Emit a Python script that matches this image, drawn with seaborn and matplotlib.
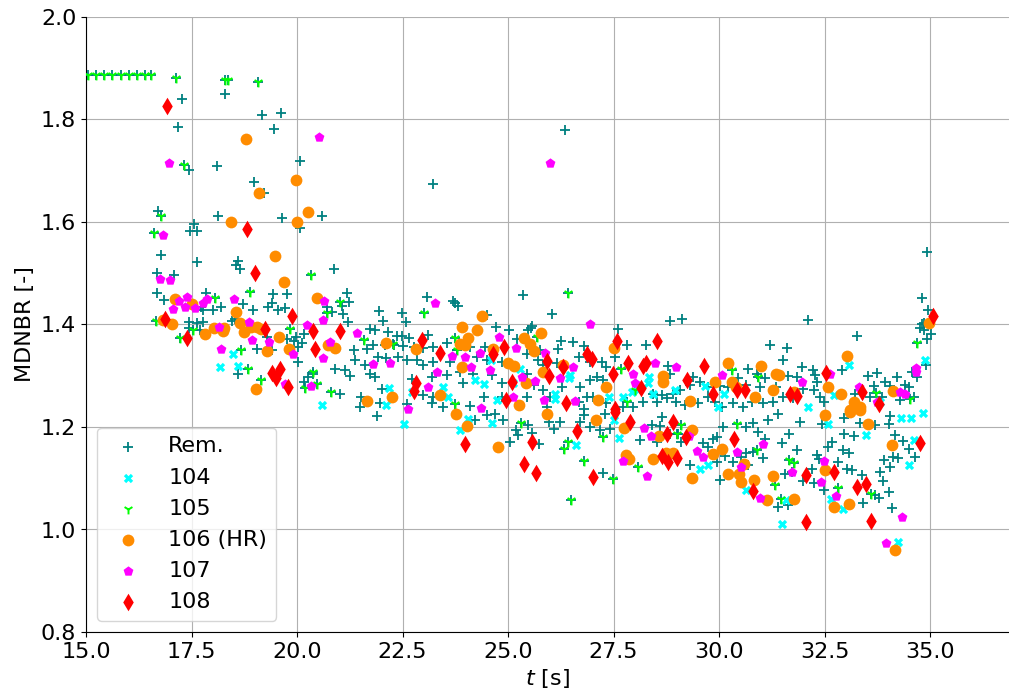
import matplotlib
matplotlib.use("Agg")
import matplotlib.pyplot as plt
import seaborn as sns
import pandas as pd

# ---------------- data (t [s], MDNBR [-]) ----------------
rem_pts = [
    (17.27,1.84),(17.18,1.785),(18.29,1.85),(19.17,1.809),(19.62,1.813),(19.46,1.781),(20.07,1.719),
    (17.44,1.701),(18.1,1.709),(18.98,1.678),(19.22,1.657),(20.59,1.612),(16.71,1.621),(18.13,1.612),
    (19.64,1.608),(20.07,1.588),(17.56,1.596),(17.46,1.582),(17.62,1.582),(23.22,1.674),(26.35,1.779),
    (16.77,1.535),(17.64,1.521),(18.56,1.516),(18.64,1.509),(18.61,1.524),(16.69,1.501),(17.09,1.496),
    (20.88,1.508),(16.69,1.462),(16.85,1.447),(17.85,1.462),(18.19,1.434),(18.02,1.429),(17.72,1.434),
    (17.78,1.428),(18.72,1.44),(18.95,1.429),(18.53,1.41),(18.46,1.407),(19.44,1.459),(19.77,1.459),
    (19.4,1.441),(19.55,1.429),(19.71,1.433),(19.32,1.434),(21.18,1.462),(21.24,1.443),(21.06,1.436),
    (20.71,1.434),(20.82,1.425),(21.08,1.421),(21.2,1.405),(17.45,1.405),(17.63,1.403),(17.77,1.404),
    (17.43,1.394),(17.7,1.389),(19.28,1.375),(19.06,1.353),(19.4,1.35),(18.59,1.303),(19.76,1.371),
    (19.93,1.368),(19.98,1.375),(20.03,1.356),(20.11,1.363),(20.03,1.327),(20.17,1.382),(20.17,1.288),
    (20.25,1.297),(20.39,1.304),(20.9,1.314),(21.14,1.311),(21.26,1.299),(21.02,1.265),(21.51,1.259),
    (21.5,1.239),(21.34,1.35),(21.38,1.33),(21.61,1.321),(21.65,1.353),
    (21.95,1.426),(22.48,1.423),(22.03,1.406),(22.58,1.405),(21.73,1.392),(21.85,1.389),(22.16,1.386),
    (22.36,1.377),(22.48,1.377),(22.66,1.373),(23.11,1.379),(21.81,1.36),(22.09,1.36),(22.3,1.36),
    (22.52,1.358),(22.76,1.356),(22.98,1.354),(23.23,1.356),(23.55,1.363),(23.78,1.351),(24.1,1.356),
    (24.46,1.356),(24.72,1.395),(25.03,1.389),(25.21,1.371),(25.55,1.394),(25.76,1.35),(26.19,1.353),
    (26.25,1.368),(26.55,1.366),(26.79,1.358),(26.69,1.337),(26.94,1.327),(21.93,1.337),(22.12,1.334),
    (22.4,1.336),(22.6,1.33),(22.84,1.33),(22.99,1.321),(23.23,1.327),(23.63,1.327),(24.26,1.337),
    (24.49,1.33),(24.85,1.327),(25.44,1.343),(25.72,1.33),(25.84,1.321),(26.15,1.324),(21.73,1.304),
    (21.85,1.298),(22.72,1.293),(23.19,1.298),(23.55,1.301),(23.86,1.308),(24.18,1.304),(24.61,1.301),
    (24.85,1.285),(25.44,1.304),(25.62,1.282),(25.84,1.272),(26.27,1.278),(26.71,1.278),(26.86,1.259),
    (22.01,1.275),(23.23,1.259),(22.99,1.262),(23.94,1.285),(24.42,1.259),(24.85,1.259),(25.44,1.259),
    (25.99,1.259),(25.92,1.239),(21.97,1.246),(22.6,1.245),(23.19,1.246),(23.47,1.239),(24.1,1.241),
    (26.67,1.249),(26.79,1.236),(23.09,1.453),(23.69,1.446),(23.82,1.436),(23.74,1.442),(24.49,1.418),
    (25.36,1.457),(26.03,1.42),(25.56,1.397),(25.48,1.389),
    (28.84,1.406),(29.13,1.41),(32.11,1.408),(27.61,1.391),(27.82,1.36),(28.28,1.36),(27.53,1.336),
    (27.22,1.327),(27.33,1.317),(27.1,1.298),(26.94,1.291),(28.8,1.319),(28.84,1.304),(29.39,1.298),
    (29.55,1.288),(29.31,1.282),(29.07,1.272),(28.91,1.265),(28.64,1.262),(28.44,1.265),(28.2,1.249),
    (27.97,1.239),(27.73,1.239),(28.52,1.249),(28.76,1.256),(28.99,1.249),(29.19,1.243),(29.51,1.246),
    (29.74,1.259),(29.9,1.249),(30.06,1.239),(30.34,1.246),(30.57,1.239),(30.77,1.249),(31.05,1.246),
    (31.28,1.249),(31.52,1.259),(31.76,1.256),(32.0,1.275),(31.84,1.298),(31.64,1.299),(31.96,1.317),
    (31.52,1.33),(31.21,1.36),(31.6,1.355),(30.69,1.314),(30.89,1.304),(31.09,1.295),(31.36,1.278),
    (30.97,1.278),(30.65,1.282),(30.45,1.295),(30.22,1.278),(30.02,1.28),(29.74,1.278),(27.26,1.291),
    (27.02,1.259),(27.33,1.246),
    (34.92,1.542),(34.81,1.451),(34.94,1.428),(34.81,1.401),(34.77,1.394),(34.85,1.389),(35.02,1.382),
    (34.92,1.371),(34.85,1.403),(33.28,1.378),(32.22,1.311),(32.28,1.301),(32.91,1.311),(33.54,1.299),
    (33.74,1.306),(34.21,1.297),(33.94,1.288),(34.06,1.28),(34.41,1.282),(34.49,1.278),(33.66,1.28),
    (33.58,1.259),(33.86,1.259),(33.23,1.265),(32.32,1.288),(32.24,1.272),(32.4,1.259),(32.48,1.249),
    (34.29,1.252),(34.61,1.259),(34.69,1.298),(34.57,1.308),(34.91,1.321),
    (21.9,1.221),(24.22,1.213),(24.5,1.223),(24.69,1.225),(24.87,1.213),(25.18,1.194),(25.24,1.184),
    (25.48,1.204),(25.56,1.189),(25.74,1.167),(25.05,1.171),(26.09,1.197),(26.23,1.21),(25.96,1.21),
    (26.71,1.21),(26.79,1.223),
    (26.94,1.2),(27.18,1.194),(27.3,1.226),(27.41,1.197),(28.12,1.174),(28.4,1.204),(28.6,1.202),
    (28.64,1.22),(28.84,1.187),(29.03,1.186),(29.11,1.171),(28.52,1.171),(29.74,1.161),(29.94,1.181),
    (29.85,1.176),(29.63,1.168),(30.1,1.2),(30.65,1.2),(30.81,1.207),(30.93,1.191),(31.17,1.213),
    (31.4,1.226),(31.66,1.186),(31.92,1.21),(31.48,1.168),(31.84,1.156),(31.09,1.176),(31.05,1.139),
    (29.96,1.132),(30.14,1.143),(30.34,1.132),(30.53,1.142),(30.65,1.15),(30.81,1.152),(30.69,1.126),
    (30.02,1.096),(29.3,1.126),(27.24,1.111),(31.56,1.109),(31.98,1.095),(31.72,1.113),(31.4,1.044),
    (31.64,1.048),
    (32.44,1.206),(32.95,1.217),(33.34,1.208),(33.7,1.204),(34.02,1.206),(34.04,1.221),(32.97,1.187),
    (33.19,1.182),(34.17,1.184),(34.37,1.173),(34.49,1.158),(32.67,1.171),(32.59,1.161),(32.93,1.156),
    (33.09,1.15),(32.32,1.145),(32.36,1.137),(32.83,1.132),(33.9,1.135),(34.13,1.142),(34.25,1.139),
    (34.65,1.142),(33.82,1.113),(34.06,1.121),(33.03,1.119),(33.15,1.116),(33.38,1.106),(33.88,1.095),
    (34.02,1.074),(33.42,1.052),(34.1,1.041),(33.7,1.067),(33.78,1.061),(32.48,1.077),(32.24,1.09),
    (32.2,1.119),
]

s104_pts = [
    (18.49,1.343),(18.18,1.317),(18.59,1.319),(20.6,1.242),(22.19,1.277),(22.11,1.243),(22.72,1.269),
    (23.45,1.279),(23.57,1.259),(24.22,1.292),(24.43,1.284),(24.73,1.253),(25.28,1.314),(25.12,1.285),
    (26.11,1.264),(26.47,1.301),(26.45,1.295),(26.11,1.254),(24.6,1.331),(28.35,1.298),(28.32,1.286),
    (27.73,1.259),(27.93,1.269),(28.44,1.264),(28.95,1.273),(29.67,1.28),(30.12,1.264),(27.4,1.259),
    (29.98,1.239),(32.11,1.239),(28.09,1.272),(34.87,1.33),(33.07,1.321),(32.73,1.262),(33.82,1.249),
    (22.54,1.206),(24.04,1.215),(23.86,1.195),(24.63,1.207),(26.6,1.165),(27.51,1.213),(27.64,1.178),
    (29.55,1.119),(29.74,1.126),(30.64,1.077),(31.58,1.057),(31.5,1.01),(32.57,1.206),(33.49,1.184),
    (34.31,1.217),(34.55,1.217),(34.83,1.228),(34.62,1.174),(34.49,1.126),(32.65,1.059),(32.93,1.04),
    (34.25,0.976),
]

s105_pts = [
    (15.05,1.887),(15.24,1.887),(15.43,1.887),(15.62,1.887),(15.83,1.887),(16.02,1.887),(16.21,1.887),
    (16.4,1.887),(16.54,1.887),(17.13,1.881),(18.3,1.877),(18.36,1.877),(19.08,1.873),(17.32,1.711),
    (16.78,1.612),(16.61,1.579),(20.33,1.496),(18.06,1.452),(18.89,1.464),(21.01,1.443),(20.72,1.423),
    (16.66,1.406),(17.23,1.373),(17.53,1.389),(18.68,1.351),(18.83,1.314),(19.15,1.291),(19.84,1.392),
    (20.47,1.284),(20.19,1.277),(20.8,1.269),(20.39,1.308),(21.58,1.369),(23.02,1.423),(26.41,1.462),
    (22.28,1.361),(23.74,1.373),(23.8,1.351),(25.68,1.375),(23.74,1.245),(27.67,1.314),(30.3,1.311),
    (30.93,1.298),(27.81,1.249),(28.01,1.272),(34.69,1.363),(33.72,1.267),(34.53,1.254),(25.31,1.207),
    (26.43,1.171),(26.33,1.158),(26.81,1.134),(26.49,1.057),(27.26,1.181),(29.09,1.204),(29.01,1.187),
    (30.42,1.206),(30.89,1.155),(28.09,1.121),(27.49,1.098),(31.32,1.087),(31.66,1.135),(31.77,1.129),
    (31.46,1.059),(32.83,1.08),(33.6,1.07),
]

s106_pts = [
    (18.79,1.762),(19.98,1.682),(19.1,1.657),(20.26,1.62),(18.44,1.6),(20.0,1.6),(19.49,1.534),
    (19.68,1.482),(17.11,1.449),(17.5,1.44),(18.55,1.425),(20.48,1.451),(16.83,1.409),(17.03,1.401),
    (17.82,1.381),(18.03,1.394),(18.27,1.394),(18.24,1.388),(18.65,1.402),(18.74,1.385),(18.9,1.395),
    (19.06,1.396),(19.14,1.391),(19.58,1.375),(19.29,1.349),(19.03,1.274),(19.82,1.352),(20.74,1.36),
    (20.91,1.355),(21.66,1.25),(24.38,1.417),(23.92,1.395),(24.27,1.389),(24.06,1.373),(23.98,1.36),
    (23.86,1.361),(25.78,1.384),(25.38,1.373),(25.52,1.361),(25.62,1.349),(22.1,1.363),(22.83,1.352),
    (22.26,1.259),(23.39,1.262),(23.9,1.317),(24.65,1.352),(25.01,1.324),(25.14,1.319),(25.43,1.285),
    (25.27,1.243),(25.84,1.307),(26.3,1.32),(27.51,1.355),(28.66,1.299),(28.66,1.288),(27.32,1.278),
    (27.14,1.252),(29.31,1.251),(29.9,1.287),(30.22,1.324),(30.3,1.288),(30.39,1.278),(30.99,1.319),
    (31.36,1.304),(31.43,1.301),(31.28,1.272),(30.85,1.258),(31.77,1.269),(34.98,1.402),(33.04,1.339),
    (32.59,1.278),(32.89,1.264),(34.13,1.271),(33.19,1.249),(33.34,1.239),(33.11,1.234),(23.77,1.225),
    (24.02,1.202),(25.93,1.226),(24.77,1.16),(27.08,1.213),(27.75,1.199),(28.58,1.182),(29.37,1.194),
    (27.79,1.145),(27.87,1.137),(28.74,1.15),(28.9,1.15),(28.44,1.137),(29.86,1.147),(30.08,1.158),
    (30.22,1.109),(30.48,1.108),(30.51,1.093),(30.6,1.128),(30.83,1.096),(31.13,1.057),(29.37,1.1),
    (31.28,1.104),(31.77,1.059),(32.52,1.223),(33.11,1.23),(33.34,1.233),(33.52,1.206),(34.1,1.165),
    (32.52,1.117),(32.73,1.043),(33.09,1.049),(34.17,0.96),
]

s107_pts = [
    (16.97,1.715),(16.83,1.574),(20.52,1.766),(26.0,1.715),(16.75,1.488),(17.0,1.487),(17.21,1.446),
    (17.4,1.454),(17.35,1.435),(17.07,1.43),(17.58,1.433),(17.78,1.441),(17.87,1.449),(18.51,1.449),
    (18.16,1.395),(18.87,1.404),(18.94,1.37),(19.34,1.365),(18.2,1.352),(19.72,1.284),(19.91,1.343),
    (20.24,1.399),(20.78,1.365),(20.62,1.409),(20.64,1.446),(20.61,1.335),(21.41,1.384),(20.33,1.28),
    (23.28,1.441),(24.79,1.375),(25.2,1.355),(24.34,1.344),(23.98,1.336),(23.67,1.339),(24.12,1.318),
    (24.57,1.311),(23.31,1.308),(23.11,1.279),(25.33,1.298),(25.64,1.29),(26.23,1.295),(26.53,1.317),
    (25.86,1.252),(26.59,1.25),(25.12,1.259),(24.36,1.238),(22.64,1.236),(25.88,1.344),(26.94,1.401),
    (21.81,1.323),(22.2,1.324),(28.48,1.324),(27.95,1.304),(28.98,1.317),(28.01,1.285),(30.06,1.301),
    (31.96,1.288),(32.63,1.303),(34.67,1.316),(34.67,1.308),(33.31,1.278),(34.29,1.269),(34.41,1.265),
    (33.74,1.249),(28.22,1.199),(28.38,1.182),(29.29,1.182),(31.05,1.167),(30.42,1.152),(27.73,1.133),
    (29.48,1.154),(29.61,1.141),(30.51,1.121),(30.98,1.061),(28.3,1.104),(31.73,1.113),(32.49,1.134),
    (32.41,1.093),(32.78,1.065),(34.33,1.024),(33.96,0.973),
]

s108_pts = [
    (16.92,1.826),(18.82,1.586),(19.01,1.5),(16.87,1.411),(17.39,1.374),(19.23,1.391),(19.87,1.417),
    (20.38,1.388),(20.43,1.352),(21.02,1.388),(19.4,1.306),(19.5,1.296),(19.6,1.313),(19.79,1.279),
    (22.97,1.37),(23.39,1.345),(24.91,1.357),(24.65,1.342),(25.93,1.328),(25.97,1.3),(26.88,1.342),
    (26.3,1.317),(22.83,1.285),(22.76,1.271),(25.1,1.287),(24.95,1.253),(26.37,1.246),(27.59,1.368),
    (28.54,1.368),(27.0,1.332),(27.85,1.325),(28.19,1.319),(28.27,1.324),(27.48,1.304),(29.65,1.319),
    (29.23,1.291),(28.16,1.277),(29.85,1.265),(30.42,1.273),(30.61,1.272),(31.68,1.265),(31.85,1.26),
    (27.53,1.236),(32.54,1.306),(33.38,1.269),(33.8,1.245),(35.06,1.417),(23.97,1.167),(25.56,1.171),
    (25.38,1.128),(25.66,1.111),(26.63,1.193),(27.53,1.23),(27.9,1.21),(28.9,1.21),(28.76,1.186),
    (29.21,1.18),(30.35,1.176),(28.64,1.143),(28.8,1.131),(29.01,1.139),(30.81,1.076),(27.02,1.103),
    (32.06,1.106),(32.06,1.014),(32.73,1.113),(33.28,1.082),(33.48,1.089),(33.6,1.016),(34.75,1.168),
]

labels = ["Rem.", "104", "105", "106 (HR)", "107", "108"]
x_ticks = [15.0, 17.5, 20.0, 22.5, 25.0, 27.5, 30.0, 32.5, 35.0]
y_ticks = [0.8, 1.0, 1.2, 1.4, 1.6, 1.8, 2.0]


def frame(pts):
    return pd.DataFrame(pts, columns=["t", "mdnbr"])


plt.rcParams["font.family"] = ["DejaVu Sans"]

fig = plt.figure(figsize=(10.09, 6.95), dpi=100)
ax = fig.add_axes([86 / 1009, 63 / 695, 1 - 86 / 1009, 615 / 695])

# Remaining (teal plus) — drawn under every 105 point as well
rem_all = frame(rem_pts + s105_pts)
sns.scatterplot(data=rem_all, x="t", y="mdnbr", ax=ax, marker="+", color="#008080",
                s=50, linewidth=1.3, label=labels[0], zorder=3)
sns.scatterplot(data=frame(s104_pts), x="t", y="mdnbr", ax=ax, marker="X", color="#00ffff",
                s=45, linewidth=0, label=labels[1], zorder=4)
sns.scatterplot(data=frame(s105_pts), x="t", y="mdnbr", ax=ax, marker="1", color="#00ff00",
                s=50, linewidth=1.4, label=labels[2], zorder=5)
sns.scatterplot(data=frame(s106_pts), x="t", y="mdnbr", ax=ax, marker="o", color="#ff8c00",
                s=72, linewidth=0, label=labels[3], zorder=6)
sns.scatterplot(data=frame(s107_pts), x="t", y="mdnbr", ax=ax, marker="p", color="#ff00ff",
                s=55, linewidth=0, label=labels[4], zorder=7)
sns.scatterplot(data=frame(s108_pts), x="t", y="mdnbr", ax=ax, marker="d", color="#ff0000",
                s=80, linewidth=0, label=labels[5], zorder=8)

ax.set_xlim(15.0, 36.87)
ax.set_ylim(0.8, 2.0)
ax.set_xticks(x_ticks)
ax.set_yticks(y_ticks)
ax.set_xticklabels([f"{v:.1f}" for v in x_ticks])
ax.set_yticklabels([f"{v:.1f}" for v in y_ticks])
ax.tick_params(labelsize=16)
ax.grid(True, color="#b0b0b0", linewidth=0.8)
ax.set_axisbelow(True)
sns.despine(ax=ax)
ax.set_xlabel("$t$ [s]", fontsize=16)
ax.set_ylabel("MDNBR [-]", fontsize=16)
ax.legend(loc="lower left", fontsize=16, frameon=True)

fig.savefig("out.png", dpi=100)
